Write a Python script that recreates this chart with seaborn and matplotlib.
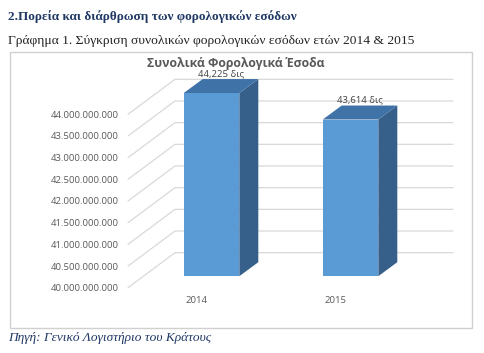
import numpy as np
import seaborn as sns
import matplotlib.pyplot as plt
import matplotlib.transforms as mtransforms
from matplotlib.patches import Polygon, Rectangle
from matplotlib.lines import Line2D

# data
years = ['2014', '2015']
revenue = [44.225e9, 43.614e9]
value_labels = ['44,225 δις', '43,614 δις']
y_ticks = np.arange(40e9, 44e9 + 1, 0.5e9)
y_tick_labels = [f'{v:,.0f}'.replace(',', '.') for v in y_ticks]

heading = '2.Πορεία και διάρθρωση των φορολογικών εσόδων'
subtitle = 'Γράφημα 1. Σύγκριση συνολικών φορολογικών εσόδων ετών 2014 & 2015'
chart_title = 'Συνολικά Φορολογικά Έσοδα'
source = 'Πηγή: Γενικό Λογιστήριο του Κράτους'

sns.set_style('white')
plt.rcParams['font.family'] = ['Open Sans', 'DejaVu Sans']

W, H = 485, 353
fig = plt.figure(figsize=(W / 100, H / 100), dpi=100)
fig.patch.set_facecolor('white')

# front plane of the 3D box (pixel layout of the original)
ax = fig.add_axes([128 / W, (H - 287.7) / H, (406 - 128) / W, 173.4 / H])
ax.patch.set_alpha(0)

grey_txt = '#595959'
grid_col = '#d9d9d9'
front_col = '#5b9bd5'
top_col = '#3f72a6'
side_col = '#365f8a'

# 3D offsets in pixels (x right, y up)
wall_off = np.array([47.0, 35.0])
bar_front_off = np.array([15.4, 11.5])
bar_depth = np.array([19.0, 14.0])
ident = mtransforms.IdentityTransform()

sns.barplot(x=years, y=revenue, ax=ax, width=0.4, color=front_col,
            saturation=1, linewidth=0)
ax.set_ylim(y_ticks[0], y_ticks[-1])
ax.set_xlim(-0.49, 1.51)
ax.set_yticks(y_ticks)
ax.set_yticklabels(y_tick_labels)
ax.tick_params(axis='y', length=0, pad=6.5, labelsize=6.8, labelcolor=grey_txt)
ax.tick_params(axis='x', length=0, pad=6, labelsize=6.8, labelcolor=grey_txt)
ax.set_xlabel('')
ax.set_ylabel('')
sns.despine(ax=ax, left=True, bottom=True)

# back wall gridlines + floor diagonals
ytrans = ax.get_yaxis_transform()
for v in y_ticks:
    p0 = ytrans.transform((0, v))
    p1 = ytrans.transform((1, v))
    xs = [p0[0], p0[0] + wall_off[0], p1[0] + wall_off[0]]
    ys = [p0[1], p0[1] + wall_off[1], p1[1] + wall_off[1]]
    fig.add_artist(Line2D(xs, ys, transform=ident, color=grid_col, lw=0.9, zorder=0))

# turn the flat bars into 3D boxes
shift = mtransforms.ScaledTranslation(bar_front_off[0] / 100, bar_front_off[1] / 100,
                                      fig.dpi_scale_trans)
for patch, lab in zip(ax.patches, value_labels):
    top = patch.get_y() + patch.get_height()
    patch.set_y(y_ticks[0])
    patch.set_height(top - y_ticks[0])
    patch.set_transform(ax.transData + shift)
    patch.set_clip_on(False)
    patch.set_zorder(3)
    x0 = patch.get_x()
    x1 = x0 + patch.get_width()
    (L, B), (R, T) = ax.transData.transform([(x0, y_ticks[0]), (x1, top)]) + bar_front_off
    dx, dy = bar_depth
    side = Polygon([(R, B), (R, T), (R + dx, T + dy), (R + dx, B + dy)],
                   closed=True, transform=ident, facecolor=side_col, edgecolor='none', zorder=3)
    roof = Polygon([(L, T), (R, T), (R + dx, T + dy), (L + dx, T + dy)],
                   closed=True, transform=ident, facecolor=top_col, edgecolor='none', zorder=3)
    fig.add_artist(side)
    fig.add_artist(roof)
    fig.text((L + R + dx) / 2 / W, (T + dy + 1) / H, lab, ha='center', va='bottom',
             fontsize=6.8, color='#404040')

# chart frame and title
fig.add_artist(Rectangle((10 / W, (H - 328) / H), 462 / W, 276 / H, transform=fig.transFigure,
                         fill=False, edgecolor='#d0d0d0', lw=1, zorder=0))
fig.text(236 / W, 1 - 63 / H, chart_title, ha='center', va='center', fontsize=8.8,
         fontweight='bold', color=grey_txt)

# surrounding document text
serif = ['Liberation Serif', 'DejaVu Serif']
fig.text(8 / W, 1 - 17 / H, heading, ha='left', va='center', fontsize=9.5,
         fontweight='bold', color='#1f3864', family=serif)
fig.text(8 / W, 1 - 41 / H, subtitle, ha='left', va='center', fontsize=9.7,
         color='#222222', family=serif)
fig.text(8 / W, 1 - 338 / H, source, ha='left', va='center', fontsize=9.6,
         style='italic', color='#1f3864', family=serif)

fig.savefig('out.png', dpi=100)
